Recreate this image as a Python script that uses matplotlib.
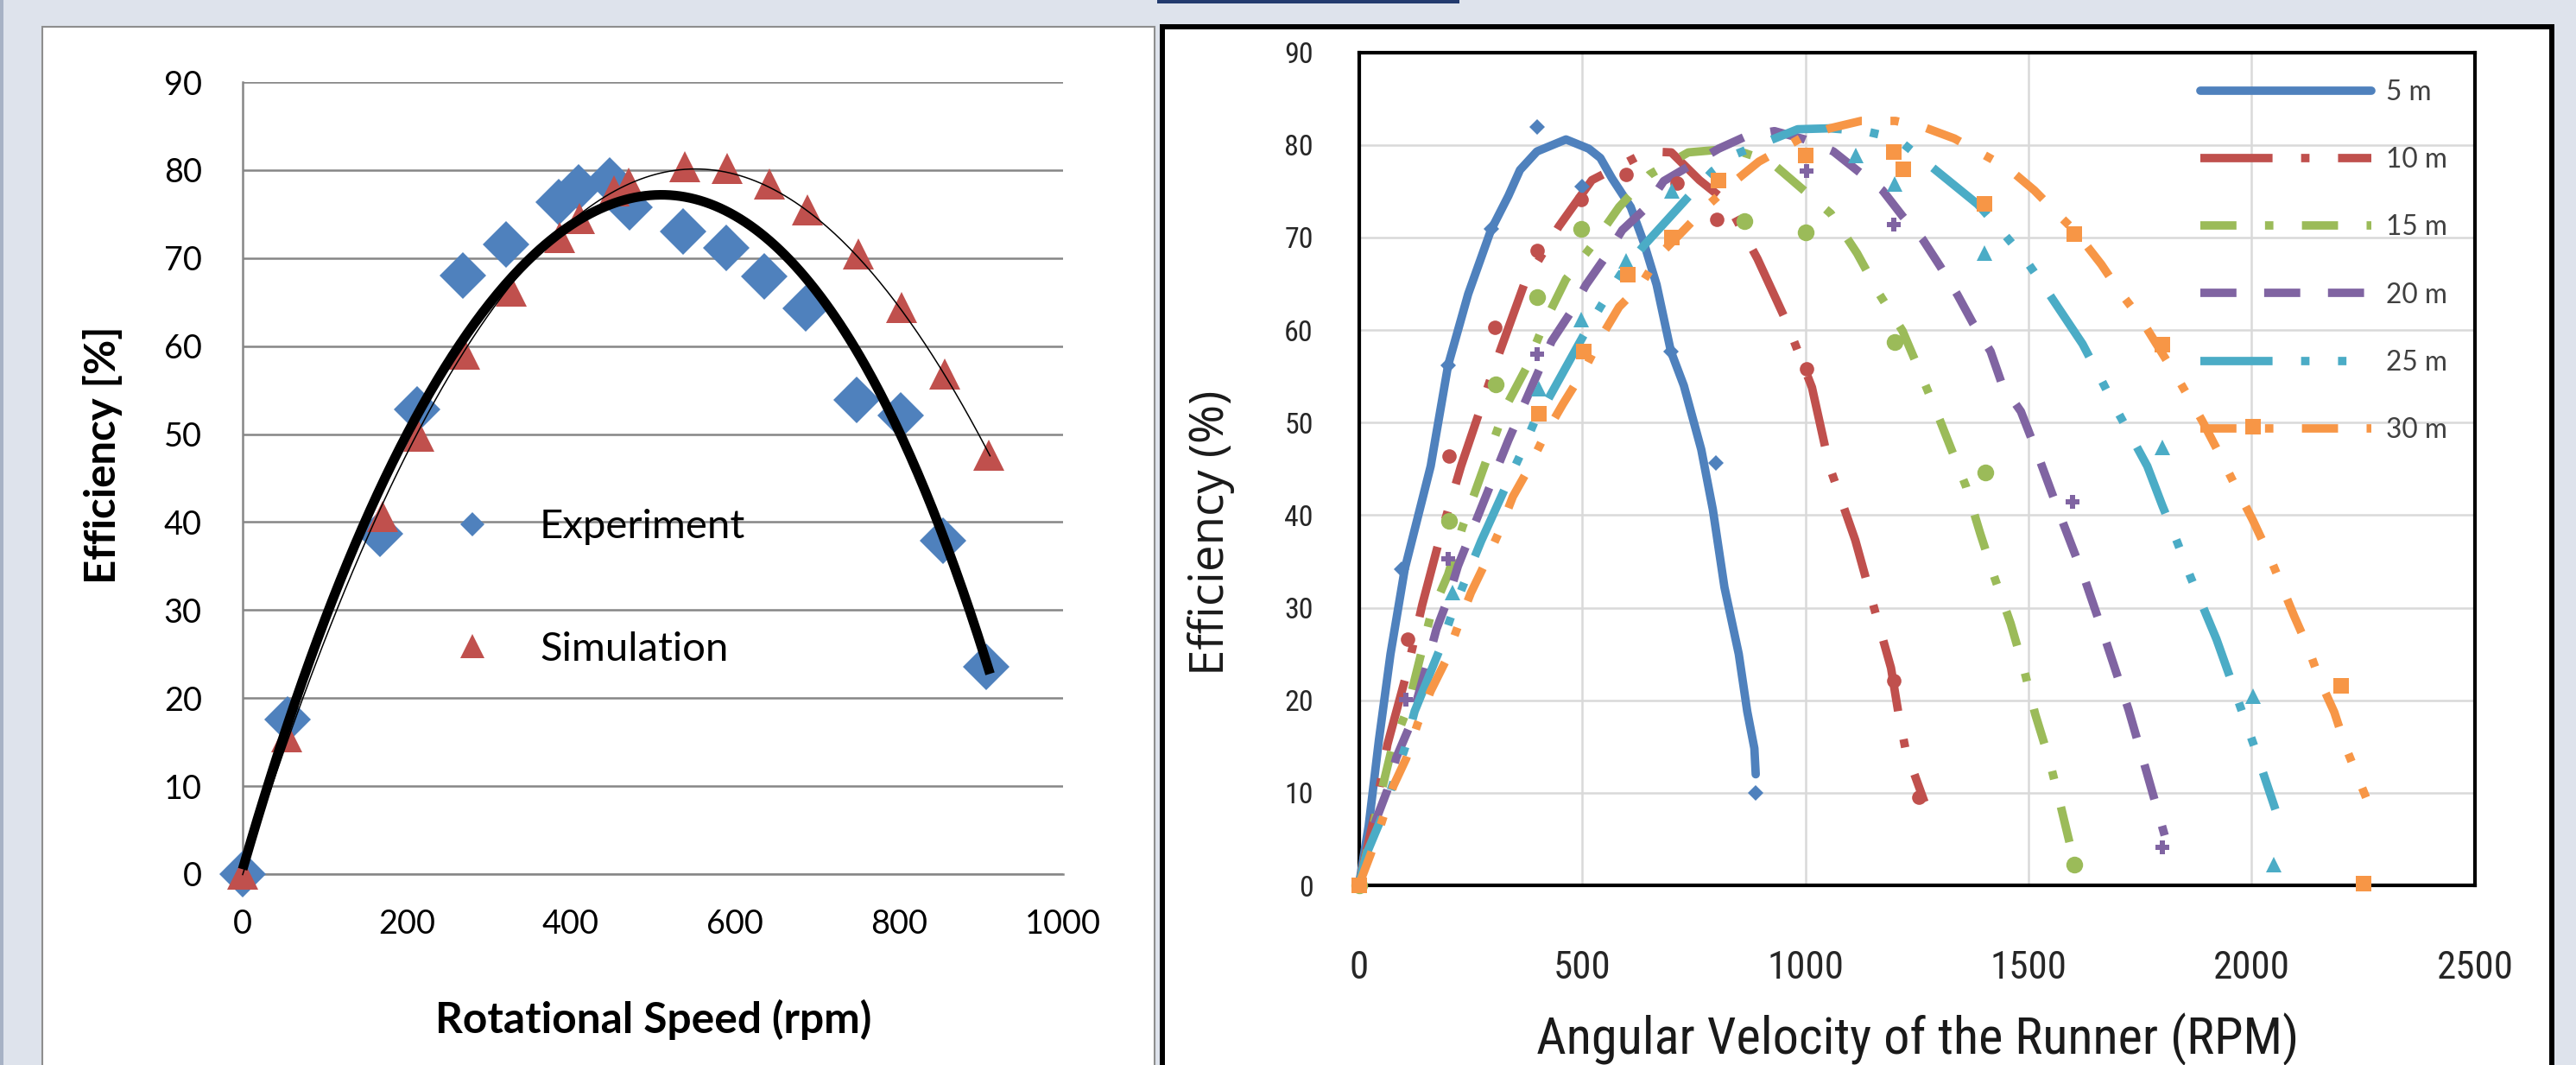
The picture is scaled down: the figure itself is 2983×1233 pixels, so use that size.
import numpy as np
import matplotlib
matplotlib.use("Agg")
import matplotlib.pyplot as plt
from matplotlib.lines import Line2D
from matplotlib.patches import Rectangle
from matplotlib import font_manager as fm

# ---------------- left chart data ----------------
left_xticks = [0, 200, 400, 600, 800, 1000]
left_yticks = [0, 10, 20, 30, 40, 50, 60, 70, 80, 90]
exp_rpm = [0, 55, 167, 213, 268, 321, 385, 409, 447, 472, 537, 589, 636, 686, 748, 802, 854, 906]
exp_eff = [0, 17.6, 38.7, 52.8, 68.0, 71.5, 76.4, 78.0, 78.8, 75.8, 73.0, 71.2, 67.9, 64.3, 53.9, 52.1, 37.9, 23.6]
sim_rpm = [0, 54, 170, 215, 271, 327, 386, 411, 453, 470, 539, 591, 642, 688, 750, 803, 856, 909]
sim_eff = [0, 15.6, 40.6, 49.8, 59.1, 66.2, 72.3, 74.5, 77.6, 78.5, 80.4, 80.2, 78.4, 75.5, 70.5, 64.4, 56.8, 47.6]
left_labels = ["Experiment", "Simulation"]
# polynomial trendlines: points, smoothed by a polynomial fit
trend_exp_rpm = [0, 42, 96, 137, 184, 231, 278, 325, 372, 426, 480, 520, 561, 615, 655, 709, 763, 810, 857, 886, 911]
trend_exp_eff = [0.6, 13.0, 28.6, 37.5, 46.9, 54.4, 61.9, 67.5, 72.4, 75.4, 76.9, 77.2, 76.3, 73.9, 70.5, 64.9, 57.4, 48.0, 38.6, 29.5, 22.6]
trend_sim_rpm = [0, 50, 100, 170, 197, 231, 281, 332, 386, 440, 487, 558, 642, 689, 750, 803, 857, 911]
trend_sim_eff = [0, 14.0, 26.5, 41.5, 46.9, 53.6, 61.5, 67.9, 72.8, 76.5, 78.8, 80.3, 78.2, 75.0, 70.5, 64.1, 56.3, 47.6]

# ---------------- right chart data ----------------
right_xticks = [0, 500, 1000, 1500, 2000, 2500]
right_yticks = [0, 10, 20, 30, 40, 50, 60, 70, 80, 90]
heads = ["5 m", "10 m", "15 m", "20 m", "25 m", "30 m"]

h5_line_rpm = [0, 6, 22, 45, 71, 103, 161, 200, 245, 296, 335, 361, 399, 464, 515, 541, 567, 609, 638, 667, 699, 728, 767, 793, 819, 851, 870, 886, 889]
h5_line_eff = [0, 1.7, 6.4, 15.7, 25.0, 34.2, 45.3, 56.2, 63.9, 70.8, 74.5, 77.3, 79.3, 80.6, 79.6, 78.6, 76.4, 73.3, 69.5, 64.9, 57.7, 54.0, 47.1, 40.6, 32.2, 25.0, 18.8, 14.8, 12.0]
h5_pts_rpm = [0, 96, 200, 296, 399, 500, 699, 799, 889]
h5_pts_eff = [0, 34.2, 56.2, 70.9, 81.9, 75.5, 57.7, 45.6, 10.0]

h10_line_rpm = [0, 35, 64, 106, 142, 183, 229, 316, 370, 448, 522, 647, 700, 763, 825, 893, 957, 1015, 1054, 1112, 1154, 1192, 1209, 1225, 1267]
h10_line_eff = [0, 7.5, 15.2, 22.7, 30.3, 37.8, 45.3, 57.7, 64.9, 71.2, 76.2, 79.3, 79.2, 76.2, 73.8, 67.7, 61.0, 53.8, 45.3, 37.3, 30.0, 23.5, 18.5, 14.6, 9.0]
h10_pts_rpm = [0, 109, 203, 304, 399, 499, 599, 712, 802, 1002, 1199, 1254]
h10_pts_eff = [0, 26.6, 46.4, 60.3, 68.6, 74.1, 76.8, 75.9, 72.0, 55.8, 22.1, 9.5]

h15_line_rpm = [0, 74, 109, 161, 200, 232, 328, 374, 415, 464, 522, 583, 651, 738, 835, 922, 1057, 1116, 1167, 1218, 1261, 1302, 1360, 1392, 1425, 1460, 1489, 1515, 1547, 1572, 1600]
h15_line_eff = [0, 14.8, 19.1, 29.2, 33.6, 38.7, 51.6, 55.8, 60.7, 65.5, 69.1, 73.3, 76.8, 79.2, 79.6, 78.2, 72.6, 68.3, 63.8, 59.9, 55.0, 50.2, 43.1, 38.0, 33.1, 28.3, 23.5, 18.5, 13.5, 8.6, 3.0]
h15_pts_rpm = [0, 203, 306, 399, 499, 864, 1000, 1201, 1403, 1602]
h15_pts_eff = [0, 39.4, 54.1, 63.6, 70.9, 71.8, 70.6, 58.7, 44.6, 2.2]

h20_line_rpm = [0, 38, 64, 84, 113, 154, 174, 200, 222, 251, 335, 364, 432, 473, 509, 551, 590, 641, 683, 806, 870, 931, 999, 1063, 1115, 1173, 1218, 1263, 1302, 1341, 1376, 1415, 1441, 1483, 1521, 1573, 1628, 1676, 1724, 1766, 1805]
h20_line_eff = [0, 7.0, 10.3, 13.8, 17.1, 24.1, 27.7, 31.0, 34.5, 38.0, 48.1, 51.3, 58.8, 61.8, 64.9, 67.8, 70.8, 73.1, 76.1, 79.6, 81.0, 81.5, 80.6, 79.3, 77.3, 75.1, 72.3, 69.8, 66.9, 63.8, 60.7, 57.7, 54.1, 51.2, 46.5, 39.7, 32.8, 26.0, 19.0, 12.0, 5.4]
h20_pts_rpm = [0, 106, 200, 399, 1002, 1199, 1599, 1800]
h20_pts_eff = [0, 20.1, 35.3, 57.4, 77.2, 71.4, 41.4, 4.1]

h25_line_rpm = [0, 19, 51, 103, 125, 183, 209, 241, 274, 335, 370, 403, 425, 502, 541, 586, 638, 738, 793, 844, 983, 1055, 1133, 1205, 1386, 1436, 1489, 1531, 1621, 1658, 1695, 1766, 1800, 1833, 1863, 1921, 1949, 1978, 2005, 2053]
h25_line_eff = [0, 3.6, 7.3, 14.8, 18.8, 25.7, 29.4, 33.3, 37.2, 43.7, 47.4, 51.2, 52.6, 59.3, 62.5, 66.0, 69.1, 74.4, 77.2, 79.0, 81.7, 81.8, 81.5, 80.7, 73.6, 70.9, 67.9, 65.0, 58.5, 55.1, 51.6, 45.3, 41.0, 37.1, 33.3, 26.6, 22.8, 18.8, 15.1, 8.2]
h25_pts_rpm = [0, 209, 403, 499, 599, 702, 1113, 1201, 1401, 1800, 2002, 2050]
h25_pts_eff = [0, 31.6, 53.7, 61.1, 67.5, 75.0, 78.9, 75.8, 68.3, 47.3, 20.4, 2.2]

h30_line_rpm = [0, 26, 51, 77, 106, 132, 161, 193, 222, 251, 283, 316, 345, 380, 415, 457, 506, 541, 583, 632, 673, 728, 780, 835, 896, 989, 1055, 1125, 1202, 1267, 1334, 1454, 1513, 1566, 1608, 1663, 1705, 1753, 1834, 1889, 1932, 1969, 2002, 2036, 2066, 2095, 2127, 2153, 2185, 2210, 2240, 2256]
h30_line_eff = [0, 3.3, 6.8, 10.7, 13.7, 17.5, 21.0, 24.1, 28.0, 31.6, 34.8, 38.4, 42.0, 45.0, 48.5, 52.0, 55.8, 59.1, 62.5, 64.9, 68.1, 70.8, 73.4, 75.8, 78.2, 80.7, 81.8, 82.6, 82.6, 81.9, 80.7, 77.5, 75.1, 72.5, 70.5, 67.1, 64.1, 61.1, 54.8, 50.2, 46.2, 42.6, 39.5, 36.0, 32.5, 29.1, 25.6, 22.1, 18.7, 15.0, 11.4, 9.5]
h30_pts_rpm = [0, 403, 503, 603, 702, 806, 1000, 1199, 1220, 1402, 1602, 1800, 2002, 2201, 2251]
h30_pts_eff = [0, 51.0, 57.7, 66.0, 70.0, 76.2, 78.9, 79.2, 77.4, 73.6, 70.4, 58.4, 49.6, 21.6, 0.2]

# ---------------- fonts ----------------
_names = {f.name for f in fm.fontManager.ttflist}
def _pick(cands, default="DejaVu Sans"):
    for n in cands:
        if n in _names:
            return n
    return default
FONT_L = _pick(["Lato", "Open Sans", "Liberation Sans"])
FONT_O = _pick(["Open Sans", "Lato", "Liberation Sans"])
FONT_N = _pick(["Roboto Condensed", "Liberation Sans Narrow", "DejaVu Sans Condensed", "Liberation Sans"])
plt.rcParams["font.family"] = [FONT_L, "DejaVu Sans"]

# ---------------- figure ----------------
W, H = 2983, 1233
fig = plt.figure(figsize=(W / 100, H / 100), dpi=100)
fig.patch.set_facecolor("#DEE3EC")
renderer = fig.canvas.get_renderer()

def size_for(s, target_px, family, weight="normal"):
    t = fig.text(0, 0, s, fontsize=20, family=family, fontweight=weight)
    w = t.get_window_extent(renderer).width
    t.remove()
    return 20.0 * target_px / w

def fx(x):
    return x / W

def fy(y):
    return 1 - y / H

def rect(x0, y0, x1, y1, **kw):
    fig.add_artist(Rectangle((fx(x0), fy(y1)), (x1 - x0) / W, (y1 - y0) / H,
                             transform=fig.transFigure, zorder=-10, **kw))

rect(0, 0, 4, H, fc="#A7B2C5", ec="none")
rect(49, 31, 1337, H + 20, fc="white", ec="#8E8E8E", lw=1.5)
rect(1346, 31, 2955, H + 20, fc="white", ec="black", lw=4.3)
rect(1340, 0, 1690, 4, fc="#233B6E", ec="none")

BLUE, RED, GREEN, PURPLE, CYAN, ORANGE = "#4F81BD", "#C0504D", "#9BBB59", "#8064A2", "#4BACC6", "#F79646"

# ================= LEFT CHART =================
axL = fig.add_axes([fx(281), fy(1012), (1231 - 281) / W, (1012 - 95) / H])
axL.set_xlim(0, 1000)
axL.set_ylim(0, 90)
axL.set_xticks(left_xticks)
axL.set_yticks(left_yticks)
axL.grid(axis="y", color="#868686", lw=1.8)
axL.set_axisbelow(True)
for s in ["top", "right"]:
    axL.spines[s].set_visible(False)
for s in ["left", "bottom"]:
    axL.spines[s].set_color("#868686")
    axL.spines[s].set_linewidth(1.8)
axL.tick_params(axis="both", length=0, labelsize=size_for("90", 44, FONT_L), colors="black")
axL.tick_params(axis="x", pad=29)
axL.tick_params(axis="y", pad=34)

axL.plot(exp_rpm, exp_eff, ls="none", marker="D", ms=27, color=BLUE, mew=0, zorder=3, clip_on=False)
axL.plot(sim_rpm, sim_eff, ls="none", marker="^", ms=26.5, color=RED, mew=0, zorder=4, clip_on=False)

cE = np.polyfit(trend_exp_rpm, trend_exp_eff, 4)
cS = np.polyfit(trend_sim_rpm, trend_sim_eff, 4)
xe = np.linspace(trend_exp_rpm[0], trend_exp_rpm[-1], 300)
xs = np.linspace(trend_sim_rpm[0], trend_sim_rpm[-1], 300)
axL.plot(xs, np.polyval(cS, xs), color="black", lw=1.1, zorder=5, clip_on=False)
axL.plot(xe, np.polyval(cE, xe), color="black", lw=8, zorder=6, clip_on=False, solid_capstyle="butt")

hE = Line2D([], [], ls="none", marker="D", ms=14, color=BLUE, mew=0)
hS = Line2D([], [], ls="none", marker="^", ms=20, color=RED, mew=0)
axL.legend([hE, hS], left_labels, loc="center left",
           bbox_to_anchor=((523 - 281) / 950, (1012 - 681) / 917),
           frameon=False, borderpad=0, borderaxespad=0, handlelength=1.0,
           handletextpad=1.16, labelspacing=2.1,
           fontsize=size_for("Experiment", 239, FONT_L))

fig.text(fx(757), fy(1180), "Rotational Speed (rpm)", ha="center", va="center",
         fontsize=size_for("Rotational Speed (rpm)", 505, FONT_L, "bold"),
         fontweight="bold", color="black")
fig.text(fx(119), fy(527), "Efficiency [%]", ha="center", va="center", rotation=90,
         fontsize=size_for("Efficiency [%]", 299, FONT_L, "bold"),
         fontweight="bold", color="black")

# ================= RIGHT CHART =================
axR = fig.add_axes([fx(1573.5), fy(1025), (2866 - 1573.5) / W, (1025 - 60.7) / H])
axR.set_xlim(0, 2500)
axR.set_ylim(0, 90)
axR.set_xticks(right_xticks)
axR.set_yticks(right_yticks)
axR.grid(True, color="#D9D9D9", lw=1.8)
axR.set_axisbelow(True)
for s in axR.spines.values():
    s.set_color("black")
    s.set_linewidth(3)
axR.tick_params(axis="both", length=0, colors="#262626")
axR.tick_params(axis="x", pad=54, labelsize=size_for("2500", 89, FONT_N))
axR.tick_params(axis="y", pad=38, labelsize=size_for("90", 33.5, FONT_N))
for lab in axR.get_xticklabels() + axR.get_yticklabels():
    lab.set_fontfamily(FONT_N)

LW = 7
styles = [
    dict(color=BLUE, ls="-", solid_capstyle="round"),
    dict(color=RED, ls=(0, (8.6, 3.4, 1.0, 3.4))),
    dict(color=GREEN, ls=(0, (4.3, 3.4, 1.0, 3.4))),
    dict(color=PURPLE, ls=(0, (4.3, 3.3))),
    dict(color=CYAN, ls=(0, (8.6, 3.4, 1.0, 3.4, 1.0, 3.4))),
    dict(color=ORANGE, ls=(0, (4.3, 3.4, 1.0, 3.4))),
]
markers = [("D", 8.7), ("o", 12), ("o", 14), ("P", 12), ("^", 13), ("s", 13)]
lines = [(h5_line_rpm, h5_line_eff), (h10_line_rpm, h10_line_eff), (h15_line_rpm, h15_line_eff),
         (h20_line_rpm, h20_line_eff), (h25_line_rpm, h25_line_eff), (h30_line_rpm, h30_line_eff)]
pts = [(h5_pts_rpm, h5_pts_eff), (h10_pts_rpm, h10_pts_eff), (h15_pts_rpm, h15_pts_eff),
       (h20_pts_rpm, h20_pts_eff), (h25_pts_rpm, h25_pts_eff), (h30_pts_rpm, h30_pts_eff)]

handles = []
for i, ((lx, ly), (px, py), st, (mk, ms)) in enumerate(zip(lines, pts, styles, markers)):
    axR.plot(lx, ly, lw=LW, dash_capstyle="butt", zorder=3 + i, clip_on=False, **st)
    axR.plot(px, py, ls="none", marker=mk, ms=ms, mew=0, color=st["color"], zorder=10 + i, clip_on=False)
    handles.append(Line2D([], [], lw=LW, dash_capstyle="butt", **st))

leg = axR.legend(handles, heads, loc="center left",
                 bbox_to_anchor=((2548 - 1573.5) / 1292.5, (1025 - 302.5) / 964.3),
                 frameon=False, borderpad=0, borderaxespad=0, handlelength=6.25,
                 handletextpad=0.55, labelspacing=1.52,
                 prop=dict(family=FONT_L, size=size_for("10 m", 71, FONT_L)))
for t in leg.get_texts():
    t.set_color("#404040")

fig.text(fx(2221), fy(1203), "Angular Velocity of the Runner (RPM)", ha="center", va="center",
         fontsize=size_for("Angular Velocity of the Runner (RPM)", 882, FONT_N),
         family=FONT_N, color="#1A1A1A")
fig.text(fx(1402), fy(617), "Efficiency (%)", ha="center", va="center", rotation=90,
         fontsize=size_for("Efficiency (%)", 330, FONT_O), family=FONT_O, color="#1A1A1A")

fig.savefig("out.png", dpi=100, facecolor=fig.get_facecolor())
